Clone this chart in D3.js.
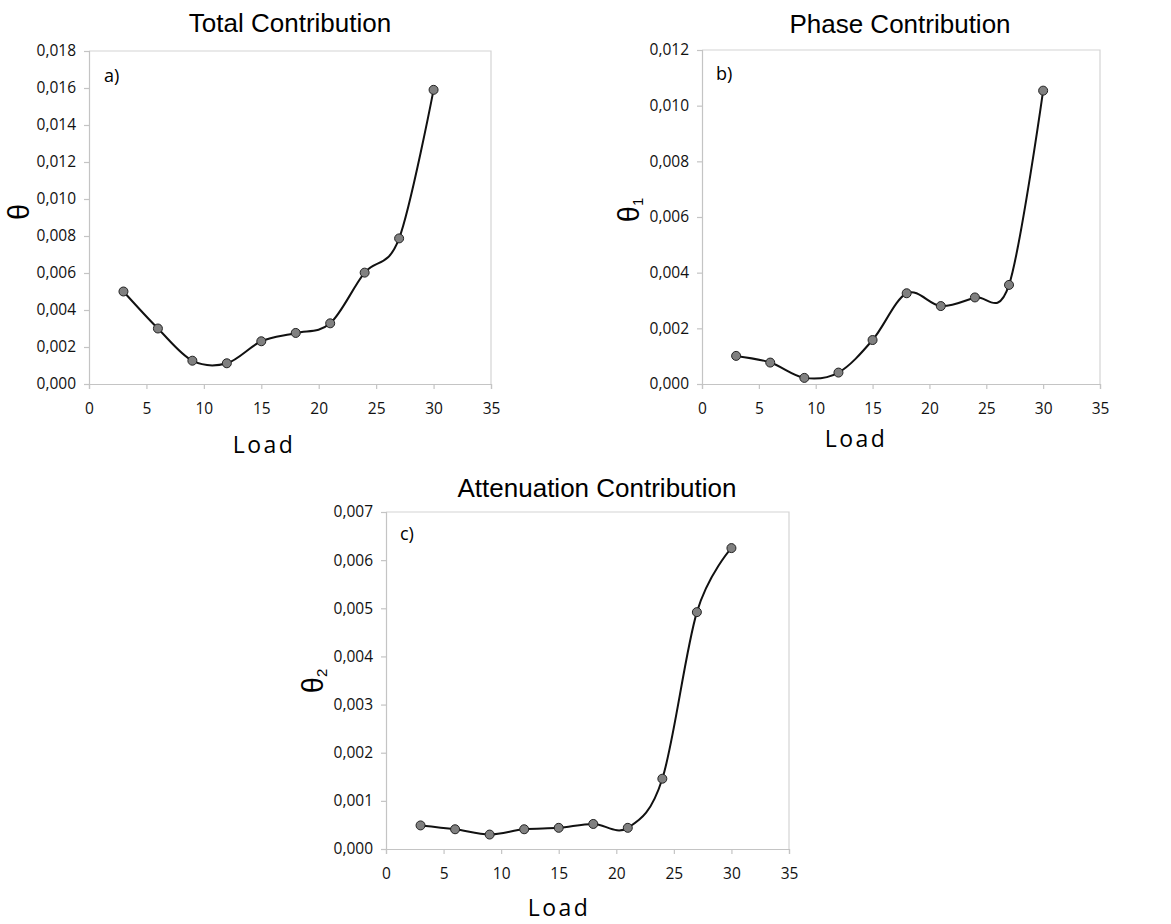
<!DOCTYPE html>
<html>
<head>
<meta charset="utf-8">
<script src="https://cdn.jsdelivr.net/npm/d3@7"></script>
<style>
  body { margin: 0; background: #fff; }
  svg { display: block; }
  .tick text { font-family: "Open Sans", sans-serif; font-size: 15.5px; fill: #111; }
  .title { font-family: "Liberation Sans", Arial, sans-serif; font-size: 26px; fill: #000; }
  .xlabel { font-family: "Open Sans", sans-serif; font-size: 23px; letter-spacing: 2.5px; fill: #000; }
  .ylabel { font-family: "Liberation Sans", Arial, sans-serif; font-size: 29px; fill: #000; }
  .panel-tag { font-family: "Open Sans", sans-serif; font-size: 18px; fill: #000; }
</style>
</head>
<body>
<svg id="chart" width="1171" height="924"></svg>
<script>
  // load steps (x axis)
  const load = [3, 6, 9, 12, 15, 18, 21, 24, 27, 30];

  // series
  const totalContribution = [0.0050, 0.0030, 0.00126, 0.00112, 0.00231, 0.00276, 0.00328, 0.00602, 0.00787, 0.0159];
  const phaseContribution = [0.00101, 0.00077, 0.00022, 0.00041, 0.00158, 0.00326, 0.0028, 0.00311, 0.00356, 0.01054];
  const attenuationContribution = [0.00049, 0.00041, 0.0003, 0.00041, 0.00044, 0.00052, 0.00044, 0.00146, 0.00492, 0.00625];

  const titles = ["Total Contribution", "Phase Contribution", "Attenuation Contribution"];
  const tags = ["a)", "b)", "c)"];
  const subscripts = ["", "1", "2"];
  const yMax = [0.018, 0.012, 0.007];
  const yStep = [0.002, 0.002, 0.001];
  const xTicks = [0, 5, 10, 15, 20, 25, 30, 35];

  // placement of each panel on the page
  const panels = [
    { data: totalContribution, left: 89, right: 491, top: 51, bottom: 384,
      titleX: 290, titleY: 32, loadX: 264, loadY: 453, yLabX: 19, yLabY: 212, tagX: 104, tagY: 82 },
    { data: phaseContribution, left: 702, right: 1100, top: 50, bottom: 384,
      titleX: 900, titleY: 33, loadX: 856, loadY: 447, yLabX: 629, yLabY: 210, tagX: 716, tagY: 80 },
    { data: attenuationContribution, left: 386, right: 789, top: 512, bottom: 849,
      titleX: 597, titleY: 497, loadX: 559, loadY: 916, yLabX: 313, yLabY: 681, tagX: 400, tagY: 540 }
  ];

  const svg = d3.select("#chart");
  const comma = (v) => d3.format(".3f")(v).replace(".", ",");

  panels.forEach((p, i) => {
    const x = d3.scaleLinear().domain([0, 35]).range([p.left, p.right]);
    const y = d3.scaleLinear().domain([0, yMax[i]]).range([p.bottom, p.top]);
    const yTicks = d3.range(0, yMax[i] + yStep[i] / 2, yStep[i]);

    const g = svg.append("g");

    // frame (top and right)
    g.append("path")
      .attr("d", `M${p.left},${p.top}H${p.right}V${p.bottom}`)
      .attr("fill", "none")
      .attr("stroke", "#d4d4d4")
      .attr("stroke-width", 1.2);

    const xAxis = g.append("g")
      .attr("transform", `translate(0,${p.bottom})`)
      .call(d3.axisBottom(x).tickValues(xTicks).tickSize(5).tickPadding(14).tickFormat(d3.format("d")));
    const yAxis = g.append("g")
      .attr("transform", `translate(${p.left},0)`)
      .call(d3.axisLeft(y).tickValues(yTicks).tickSize(5).tickPadding(8).tickFormat(comma));

    [xAxis, yAxis].forEach((ax) => {
      ax.select(".domain").attr("stroke", "#c4c4c4").attr("stroke-width", 1.2);
      ax.selectAll(".tick line").attr("stroke", "#c4c4c4").attr("stroke-width", 1.2);
    });

    // smooth line like the spreadsheet one
    const line = d3.line()
      .x((d, j) => x(load[j]))
      .y((d) => y(d))
      .curve(d3.curveCardinal.tension(0));

    g.append("path")
      .datum(p.data)
      .attr("d", line)
      .attr("fill", "none")
      .attr("stroke", "#111")
      .attr("stroke-width", 2);

    g.selectAll(".pt")
      .data(p.data)
      .enter()
      .append("circle")
      .attr("class", "pt")
      .attr("cx", (d, j) => x(load[j]))
      .attr("cy", (d) => y(d))
      .attr("r", 4.5)
      .attr("fill", "#808080")
      .attr("stroke", "#222")
      .attr("stroke-width", 1);

    g.append("text")
      .attr("class", "title")
      .attr("x", p.titleX)
      .attr("y", p.titleY)
      .attr("text-anchor", "middle")
      .text(titles[i]);

    g.append("text")
      .attr("class", "xlabel")
      .attr("x", p.loadX)
      .attr("y", p.loadY)
      .attr("text-anchor", "middle")
      .text("Load");

    const yl = g.append("text")
      .attr("class", "ylabel")
      .attr("transform", `translate(${p.yLabX},${p.yLabY}) rotate(-90)`)
      .attr("text-anchor", "middle")
      .attr("dy", "0.35em")
      .text("θ");
    if (subscripts[i]) {
      yl.append("tspan")
        .attr("font-size", "15px")
        .attr("dy", "0.25em")
        .text(subscripts[i]);
    }

    g.append("text")
      .attr("class", "panel-tag")
      .attr("x", p.tagX)
      .attr("y", p.tagY)
      .text(tags[i]);
  });
</script>
</body>
</html>
